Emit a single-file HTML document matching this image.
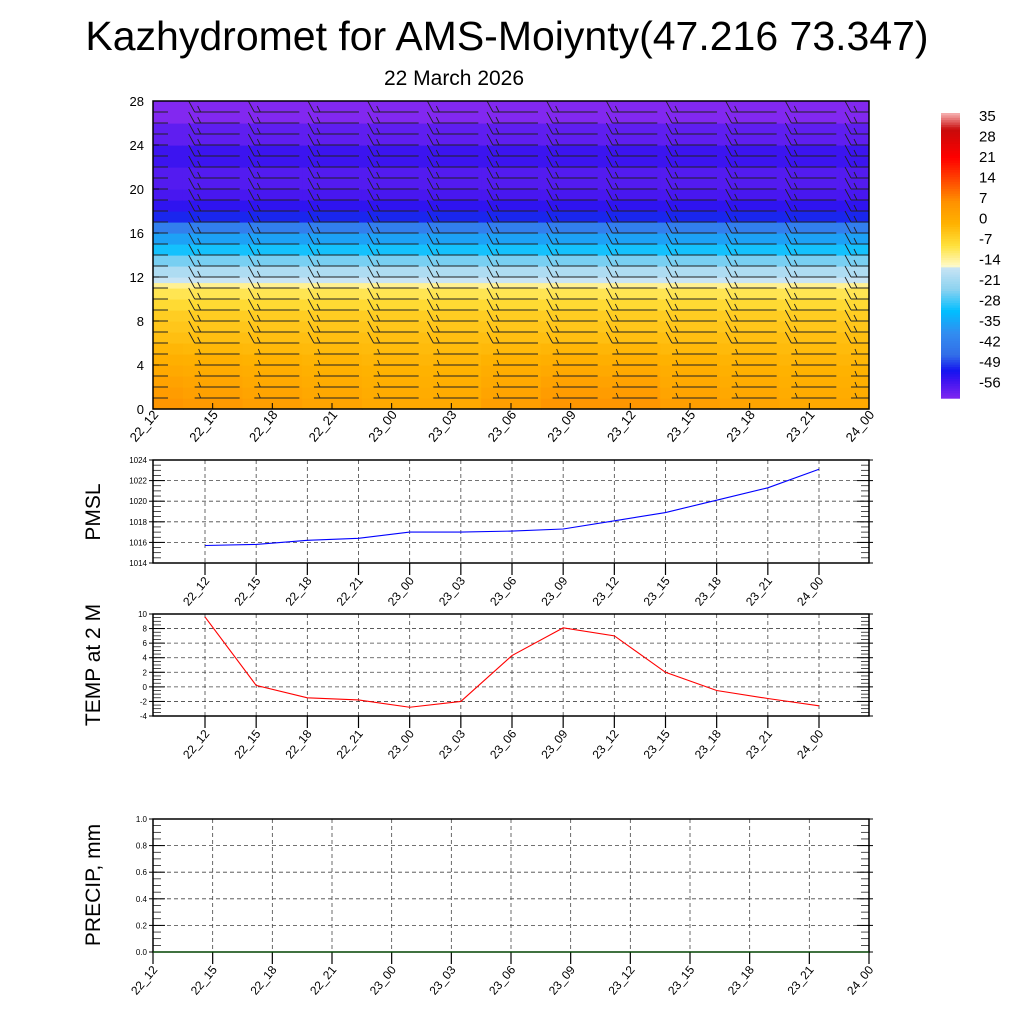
<!DOCTYPE html>
<html><head><meta charset="utf-8"><style>
body{margin:0;background:#fff;font-family:"Liberation Sans",sans-serif}
svg text{font-family:"Liberation Sans",sans-serif}
</style></head><body>
<svg id="s" width="1024" height="1024" xmlns="http://www.w3.org/2000/svg">
<text x="507" y="50" font-size="41" text-anchor="middle">Kazhydromet for AMS-Moiynty(47.216 73.347)</text>
<text x="454" y="85" font-size="21" text-anchor="middle">22 March 2026</text>
<g id="topPanel"></g>
<g id="cbar"></g>
<g id="p1"></g>
<g id="p2"></g>
<g id="p3"></g>
</svg>
<script>
const times=["22_12","22_15","22_18","22_21","23_00","23_03","23_06","23_09","23_12","23_15","23_18","23_21","24_00"];
const heights=[0,1,2,3,4,5,6,7,8,9,10,11,11.5,12,13,14,15,16,17,18,19,20,22,24,26,28];
const profile=[4,3,2,1,0,-1,-2,-3,-4,-6,-8,-11,-14,-17,-22,-27,-32,-38,-46,-49,-51,-52,-50,-53,-56,-58];
const surfaceAnom=[2,1,0,-1,-2,-2,0,2,2,0,-1,-2,-2];
const pmsl=[1015.7,1015.8,1016.2,1016.4,1017.0,1017.0,1017.1,1017.3,1018.1,1018.9,1020.1,1021.3,1023.1];
const t2m=[9.6,0.2,-1.5,-1.8,-2.8,-2.0,4.3,8.1,7.0,2.0,-0.5,-1.6,-2.6];
const precip=[0,0,0,0,0,0,0,0,0,0,0,0,0];
const cbLabels=[35,28,21,14,7,0,-7,-14,-21,-28,-35,-42,-49,-56];
const cStops=[[35,[245,170,170]],[30,[200,10,10]],[21,[255,0,0]],[14,[255,70,0]],[7,[255,145,0]],[0,[255,178,0]],[-7,[255,225,60]],[-13.5,[255,250,200]],[-14,[200,228,244]],[-21,[140,210,240]],[-28,[0,190,255]],[-35,[50,140,240]],[-42,[50,110,232]],[-47,[20,20,240]],[-50,[60,20,240]],[-56,[130,40,240]],[-60,[135,40,235]]];
function col(v){if(v>=cStops[0][0])return rgb(cStops[0][1]);for(let i=0;i<cStops.length-1;i++){const a=cStops[i],b=cStops[i+1];if(v<=a[0]&&v>=b[0]){const f=(a[0]-v)/(a[0]-b[0]);return rgb(a[1].map((c,k)=>c+(b[1][k]-c)*f));}}return rgb(cStops[cStops.length-1][1]);}
function rgb(a){return`rgb(${a.map(Math.round).join(",")})`;}
const NS="http://www.w3.org/2000/svg";
function mk(p,t,at){const e=document.createElementNS(NS,t);for(const k in at)e.setAttribute(k,at[k]);p.appendChild(e);return e;}
function txt(p,x,y,s,fs,anchor,rot){const e=mk(p,"text",{x,y,"font-size":fs,"text-anchor":anchor||"start"});if(rot)e.setAttribute("transform",`rotate(${rot} ${x} ${y})`);e.textContent=s;return e;}

const topG=document.getElementById("topPanel");
const TX0=153,TX1=869,TY0=101,TY1=409;
const tx=i=>TX0+(TX1-TX0)*i/12, ty=h=>TY1-(TY1-TY0)*h/28;
const cw=(TX1-TX0)/12;
for(let i=0;i<13;i++){for(let j=0;j<heights.length-1;j++){
  const w=Math.max(0,1-heights[j]/6);const v=profile[j]+surfaceAnom[i]*w;
  const x0=Math.max(TX0,tx(i)-cw/2), x1=Math.min(TX1,tx(i)+cw/2+1);
  const r=mk(topG,"rect",{x:x0,y:ty(heights[j+1]),width:x1-x0,height:ty(heights[j])-ty(heights[j+1])+0.6,fill:col(v)});
  
  
}}
const clip=mk(topG,"clipPath",{id:"cp"});mk(clip,"rect",{x:TX0,y:TY0,width:TX1-TX0,height:TY1-TY0});
const barbs=mk(topG,"g",{"clip-path":"url(#cp)",stroke:"#222","stroke-width":"0.9"});


for(let i=0;i<13;i++){for(let h=1;h<28;h++){const x=tx(i)+(i==0?0:-18),y=ty(h);
  mk(barbs,"line",{x1:x+(i==0?-5:0),y1:y,x2:x+(i==0?15:45),y2:y});
  if(i>0&&h>5){mk(barbs,"line",{x1:x,y1:y,x2:x-6,y2:y-11});mk(barbs,"line",{x1:x+6,y1:y,x2:x+3,y2:y-6});}
  else if(i>0){mk(barbs,"line",{x1:x+6,y1:y,x2:x+4,y2:y-5});}
}}
mk(topG,"rect",{x:TX0,y:TY0,width:TX1-TX0,height:TY1-TY0,fill:"none",stroke:"#000","stroke-width":1.5});
[0,4,8,12,16,20,24,28].forEach(h=>{txt(topG,144,ty(h)+5,String(h),13,"end");mk(topG,"line",{x1:TX0,x2:TX0+6,y1:ty(h),y2:ty(h),stroke:"#000"});});
times.forEach((t,i)=>{const e=txt(topG,tx(i)+6,415,t,13,"end",-50);mk(topG,"line",{x1:tx(i),x2:tx(i),y1:TY1,y2:TY1-6,stroke:"#000"});});

const cb=document.getElementById("cbar");
const CY0=113,CY1=398;
for(let k=0;k<120;k++){const v=35-(91*k/120);mk(cb,"rect",{x:941,y:CY0+(CY1-CY0)*k/120,width:19,height:(CY1-CY0)/120+0.7,fill:col(v)});}
cbLabels.forEach((l,k)=>{const e=txt(cb,979,121+k*20.5,String(l),15,"start");});

function panel(g,y0,y1,xs,x1s,ymin,ymax,ticks,data,color,title,titleY,dec,minorStep){
  const X0=153,X1=869;
  const px=i=>xs+(x1s-xs)*i/12, py=v=>y1-(y1-y0)*(v-ymin)/(ymax-ymin);
  const grid=mk(g,"g",{stroke:"#444","stroke-width":0.8,"stroke-dasharray":"4,3"});
  ticks.forEach(v=>{if(v>ymin&&v<ymax)mk(grid,"line",{x1:X0,x2:X1,y1:py(v),y2:py(v)});});
  for(let i=0;i<13;i++){if(px(i)>X0+1&&px(i)<X1-1)mk(grid,"line",{x1:px(i),x2:px(i),y1:y0,y2:y1});}
  const nMinor=Math.round((ymax-ymin)/minorStep);
  for(let k=0;k<=nMinor;k++){const y=py(ymin+k*minorStep);mk(g,"line",{x1:X0,x2:X0+8,y1:y,y2:y,stroke:"#000","stroke-width":0.7});mk(g,"line",{x1:X1-8,x2:X1,y1:y,y2:y,stroke:"#000","stroke-width":0.7});}
  ticks.forEach(v=>{txt(g,147,py(v)+3,v.toFixed(dec),8,"end");mk(g,"line",{x1:X0-4,x2:X0+12,y1:py(v),y2:py(v),stroke:"#000"});mk(g,"line",{x1:X1-12,x2:X1+4,y1:py(v),y2:py(v),stroke:"#000"});});
  mk(g,"rect",{x:X0,y:y0,width:X1-X0,height:y1-y0,fill:"none",stroke:"#000","stroke-width":1.5});
  times.forEach((t,i)=>{mk(g,"line",{x1:px(i),x2:px(i),y1:y1,y2:y1+12,stroke:"#000","stroke-width":1.2});const e=txt(g,px(i)+5,y1+18,t,12,"end",-50);});
  const pts=data.map((v,i)=>`${px(i)},${py(v)}`).join(" ");
  const pl=mk(g,"polyline",{points:pts,fill:"none",stroke:color,"stroke-width":1.1});
  
  
  const yt=txt(g,100,titleY,title,21,"middle",-90);
  
  
}
panel(document.getElementById("p1"),460,563,205,819,1014,1024,[1014,1016,1018,1020,1022,1024],pmsl,"#0000ff","PMSL",512,0,0.5);
panel(document.getElementById("p2"),614,716,205,819,-4,10,[-4,-2,0,2,4,6,8,10],t2m,"#ff0000","TEMP at 2 M",665,0,0.5);
panel(document.getElementById("p3"),819,952,153,869,0,1,[0,0.2,0.4,0.6,0.8,1.0],precip,"#006400","PRECIP, mm",885,1,0.05);
</script>
</body></html>
